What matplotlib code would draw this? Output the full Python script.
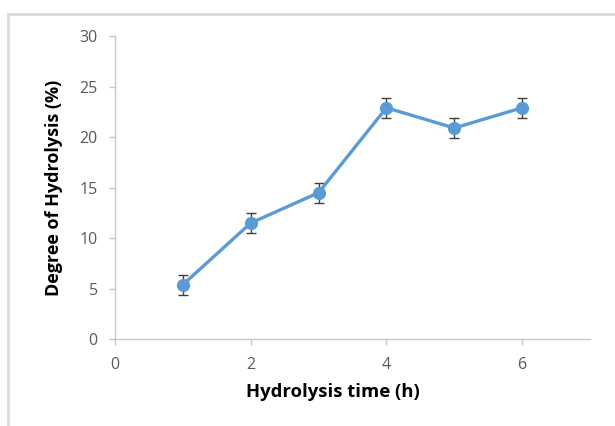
import matplotlib
matplotlib.use("Agg")
import matplotlib.pyplot as plt
from matplotlib.patches import Rectangle

# data
hours = [1, 2, 3, 4, 5, 6]
dh = [5.4, 11.5, 14.5, 22.9, 20.9, 22.9]
err = [1.0, 1.0, 1.0, 1.0, 1.0, 1.0]
xticks = [0, 2, 4, 6]
yticks = [0, 5, 10, 15, 20, 25, 30]

plt.rcParams['font.family'] = ['Open Sans', 'DejaVu Sans']

fig = plt.figure(figsize=(6.15, 4.26), dpi=100)
ax = fig.add_axes([115 / 615, 86.7 / 426, 475 / 615, 303.3 / 426])

# frame of the chart area (only top and left edges are visible)
fig.patches.append(Rectangle((7.5 / 615, -0.1), 1.2, (426 - 14) / 426 + 0.1,
                             transform=fig.transFigure, fill=False,
                             edgecolor='#d9d9d9', linewidth=2))

ax.errorbar(hours, dh, yerr=err, color='#5b9bd5', linewidth=2.4,
            marker='o', markersize=8.5, ecolor='#404040', elinewidth=1,
            capsize=3.6, capthick=1, zorder=3)

ax.set_xlim(0, 7)
ax.set_ylim(0, 30)
ax.set_xticks(xticks)
ax.set_yticks(yticks)

for s in ['top', 'right']:
    ax.spines[s].set_visible(False)
for s in ['left', 'bottom']:
    ax.spines[s].set_color('#c8c8c8')
    ax.spines[s].set_linewidth(1)
ax.tick_params(axis='both', colors='#c8c8c8', labelcolor='#595959',
               labelsize=11.5, length=4.5, width=1)
ax.tick_params(axis='x', pad=8.5)
ax.tick_params(axis='y', pad=8)

ax.set_xlabel('Hydrolysis time (h)', fontsize=13.3, fontweight='bold', va='center')
ax.set_ylabel('Degree of Hydrolysis (%)', fontsize=13, fontweight='bold', va='center')
ax.xaxis.set_label_coords(0.459, -0.174)
ax.yaxis.set_label_coords(-0.129, 0.5)

fig.savefig('out.png', dpi=100)
